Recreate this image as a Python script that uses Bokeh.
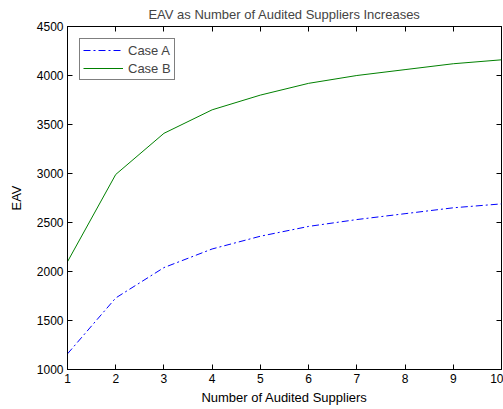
from bokeh.plotting import figure
from bokeh.models import LinearAxis, FixedTicker, Range1d, Legend, LegendItem
from bokeh.embed import file_html
from bokeh.resources import INLINE

suppliers = [1, 2, 3, 4, 5, 6, 7, 8, 9, 10]
case_a = [1160, 1730, 2040, 2230, 2360, 2460, 2530, 2590, 2650, 2690]
case_b = [2100, 2990, 3410, 3650, 3800, 3920, 4000, 4060, 4120, 4160]
x_ticks = [1, 2, 3, 4, 5, 6, 7, 8, 9, 10]
y_ticks = [1000, 1500, 2000, 2500, 3000, 3500, 4000, 4500]

FONT = "Liberation Sans"

p = figure(width=503, height=409, output_backend="svg", toolbar_location=None,
           x_range=Range1d(1, 10), y_range=Range1d(1000, 4500),
           min_border_left=67, min_border_right=2, min_border_top=26, min_border_bottom=40,
           x_axis_location=None, y_axis_location=None)
p.title.text = "EAV as Number of Audited Suppliers Increases"
p.title.align = "center"
p.title.text_font = FONT
p.title.text_font_size = "13px"
p.title.text_font_style = "normal"
p.title.offset = 0
p.title.standoff = 9

p.xgrid.visible = False
p.ygrid.visible = False
p.outline_line_color = "black"
p.outline_line_width = 1
p.background_fill_color = "white"
p.border_fill_color = "white"

def style(ax, labels=True):
    ax.major_tick_in = 5
    ax.major_tick_out = 0
    ax.minor_tick_in = 0
    ax.minor_tick_out = 0
    ax.axis_line_color = "black"
    ax.major_tick_line_color = "black"
    ax.major_label_text_font = FONT
    ax.major_label_text_font_size = "12px"
    ax.major_label_text_color = "black"
    ax.axis_label_text_font = FONT
    ax.axis_label_text_font_size = "13px"
    ax.axis_label_text_font_style = "normal"
    ax.axis_label_text_color = "black"
    if not labels:
        ax.major_label_overrides = {t: "" for t in ax.ticker.ticks}
        ax.major_label_standoff = 0
        ax.axis_label_standoff = 0

xb = LinearAxis(ticker=FixedTicker(ticks=x_ticks), axis_label="Number of Audited Suppliers")
style(xb)
xb.major_label_standoff = 4
xb.axis_label_standoff = 4
p.add_layout(xb, "below")

yl = LinearAxis(ticker=FixedTicker(ticks=y_ticks), axis_label="EAV")
style(yl)
yl.major_label_standoff = 4
yl.axis_label_standoff = 10
p.add_layout(yl, "left")

xt = LinearAxis(ticker=FixedTicker(ticks=x_ticks))
style(xt, labels=False)
p.add_layout(xt, "above")

# right-side inward ticks (box style), drawn at the right end of the x range
p.ray(x=[x_ticks[-1]] * len(y_ticks), y=y_ticks, length=5, length_units="screen",
      angle=180, angle_units="deg", line_color="black", line_width=1)

ra = p.line(suppliers, case_a, line_color="#0000ff", line_width=1, line_dash="7 3 2 3")
rb = p.line(suppliers, case_b, line_color="#008000", line_width=1)

legend = Legend(items=[LegendItem(label="Case A", renderers=[ra]),
                       LegendItem(label="Case B", renderers=[rb])],
                location="top_left")
legend.label_text_font = FONT
legend.label_text_font_size = "13px"
legend.border_line_color = "black"
legend.border_line_width = 1
legend.glyph_width = 40
legend.glyph_height = 16
legend.label_height = 16
legend.spacing = 2
legend.padding = 3
legend.margin = 12
legend.label_standoff = 5
p.add_layout(legend, "center")

open("out.html", "w").write(file_html(p, INLINE))
